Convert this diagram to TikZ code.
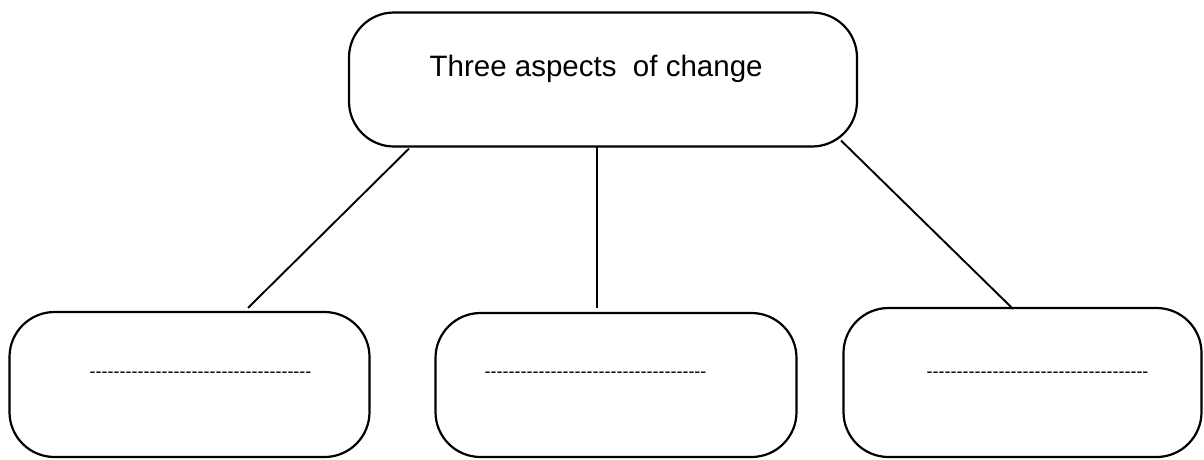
\documentclass[tikz,border=0pt]{standalone}
\usepackage{fontspec}
\setmainfont{Liberation Sans}
\newcommand\hy{-\kern0pt}
\newcommand\hyrow{\hy\hy\hy\hy\hy\hy\hy\hy\hy\hy\hy\hy\hy\hy\hy\hy\hy\hy\hy\hy\hy\hy\hy\hy\hy\hy\hy\hy\hy\hy\hy\hy\hy\hy\hy\hy\hy}
\tikzset{
  x=1pt, y=1pt,
  box/.style={draw=black, line width=2.2pt, rounded corners=45pt, inner sep=0pt, fill=white},
  title/.style={font=\fontsize{29.5}{34}\selectfont, inner sep=0pt, anchor=base west},
  blank/.style={font=\fontsize{18}{20}\selectfont, inner sep=0pt, anchor=base west},
  link/.style={draw=black, line width=1.9pt}
}
\begin{document}
\begin{tikzpicture}
\useasboundingbox (0,0) rectangle (1204,-459);
% boxes
\node[box, minimum width=360pt, minimum height=145pt] (left) at (189.5,-384.5) {};
\node[box, minimum width=361pt, minimum height=144pt] (mid) at (616,-385) {};
\node[box, minimum width=358pt, minimum height=149pt] (right) at (1022.5,-382.5) {};
\node[box, minimum width=508pt, minimum height=134pt] (top) at (603,-79.5) {};
% texts
\node[title] (toptext) at (429.5,-76) {Three aspects~~of change};
\node[blank] (lefttext) at (89.5,-377) {\hyrow};
\node[blank] (midtext) at (484.5,-377) {\hyrow};
\node[blank] (righttext) at (926.5,-377) {\hyrow};
% connectors
\draw[link] ([xshift=-194pt,yshift=-1pt]top.south) -- ([xshift=58.5pt,yshift=3pt]left.north);
\draw[link] ([xshift=-6pt,yshift=2pt]top.south) -- ([xshift=-19pt,yshift=4pt]mid.north);
\draw[link] ([xshift=-17pt,yshift=7pt]top.south east) -- ([xshift=-9.5pt,yshift=-2pt]right.north);
\end{tikzpicture}
\end{document}
